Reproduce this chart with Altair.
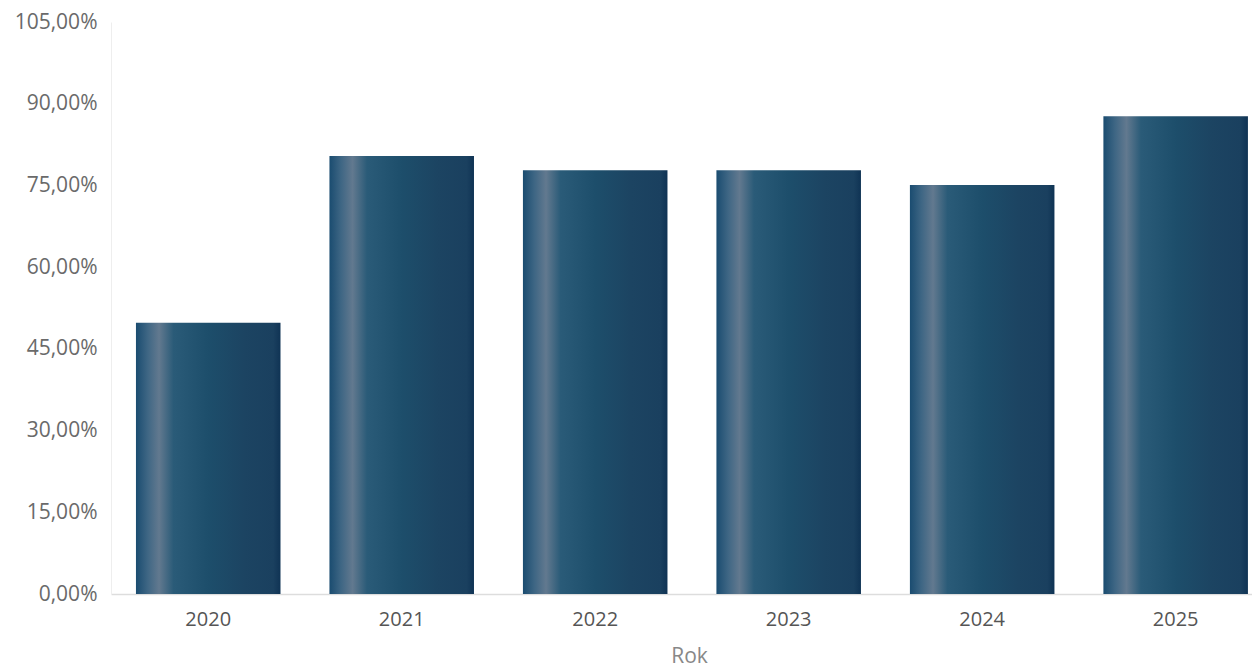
import altair as alt
import pandas as pd

years = ["2020", "2021", "2022", "2023", "2024", "2025"]
values = [49.8, 80.4, 77.8, 77.8, 75.1, 87.7]
y_ticks = [0, 15, 30, 45, 60, 75, 90, 105]

df = pd.DataFrame({"Rok": years, "Wartosc": values})

gradient = alt.Gradient(
    gradient="linear",
    x1=0, x2=1, y1=0, y2=0,
    stops=[
        alt.GradientStop(offset=0.0, color="#1a4c70"),
        alt.GradientStop(offset=0.08, color="#3e6684"),
        alt.GradientStop(offset=0.16, color="#62798f"),
        alt.GradientStop(offset=0.26, color="#2a5b78"),
        alt.GradientStop(offset=0.5, color="#1d4e6b"),
        alt.GradientStop(offset=0.75, color="#1c4462"),
        alt.GradientStop(offset=0.95, color="#1a405f"),
        alt.GradientStop(offset=1.0, color="#0f3354"),
    ],
)

chart = (
    alt.Chart(df)
    .mark_bar(color=gradient)
    .encode(
        x=alt.X(
            "Rok:N",
            sort=years,
            scale=alt.Scale(paddingInner=0.253, paddingOuter=0.075, align=0.86),
            axis=alt.Axis(
                title="Rok",
                titleX=578,
                titleAlign="center",
                labelAngle=0,
                ticks=False,
                labelPadding=15,
                labelFontSize=20,
                labelColor="#555555",
                titleFontSize=21,
                titleColor="#888888",
                titleFontWeight="normal",
                titlePadding=16,
                domainColor="#dddddd",
                domainWidth=1.5,
                grid=False,
            ),
        ),
        y=alt.Y(
            "Wartosc:Q",
            scale=alt.Scale(domain=[0, 105], nice=False),
            axis=alt.Axis(
                title=None,
                values=y_ticks,
                labelExpr="replace(format(datum.value, '.2f'), '.', ',') + '%'",
                ticks=False,
                labelPadding=14,
                labelFontSize=21,
                labelColor="#6a6a6a",
                domainColor="#eeeeee",
                grid=False,
            ),
        ),
    )
    .properties(width=1141, height=572, padding={"left": 6, "top": 3, "right": 0, "bottom": 0})
    .configure_view(stroke=None)
    .configure_axis(labelFont="Open Sans", titleFont="Open Sans")
)

chart.save("out.html", embed_options={"renderer": "svg", "actions": False})
